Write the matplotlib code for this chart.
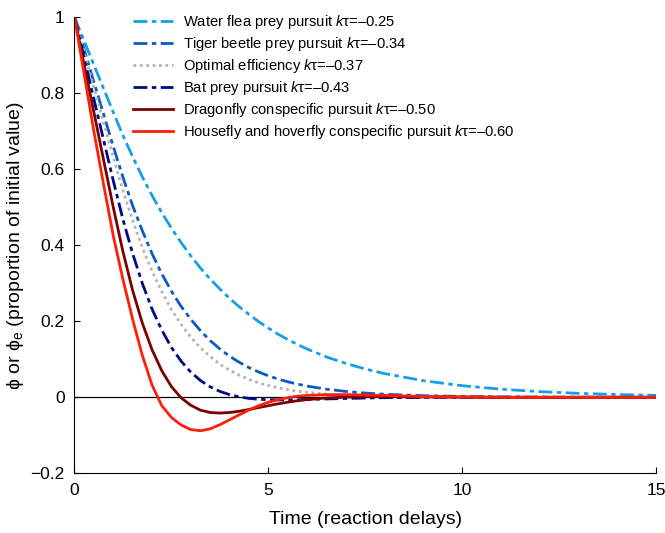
import matplotlib
matplotlib.use("Agg")
import matplotlib.pyplot as plt

plt.rcParams['font.family'] = ['Liberation Sans', 'DejaVu Sans']
plt.rcParams['mathtext.fontset'] = 'custom'
plt.rcParams['mathtext.rm'] = 'Liberation Sans'
plt.rcParams['mathtext.it'] = 'Liberation Sans:italic'

# time in reaction delays
t = [0, 0.25, 0.5, 0.75, 1, 1.25, 1.5, 1.75, 2, 2.25, 2.5, 2.75, 3, 3.25, 3.5, 3.75,
     4, 4.25, 4.5, 4.75, 5, 5.25, 5.5, 5.75, 6, 6.5, 7, 7.5, 8,
     9, 10, 11, 12, 13, 14, 15]

water_flea = [1, 0.9375, 0.875, 0.8125, 0.75, 0.689, 0.633, 0.58, 0.531, 0.486, 0.445, 0.407,
              0.372, 0.34, 0.311, 0.285, 0.26, 0.238, 0.218, 0.199, 0.182, 0.166, 0.152, 0.139,
              0.127, 0.106, 0.089, 0.0744, 0.0623, 0.0436, 0.0305, 0.0213, 0.0149, 0.0104,
              0.0073, 0.0051]
tiger_beetle = [1, 0.915, 0.83, 0.745, 0.66, 0.579, 0.504, 0.438, 0.378, 0.325, 0.279, 0.239,
                0.205, 0.175, 0.149, 0.127, 0.108, 0.092, 0.078, 0.0665, 0.0565, 0.048, 0.0408,
                0.0347, 0.0295, 0.0213, 0.0154, 0.0111, 0.008, 0.0042, 0.0022, 0.0011, 0.0006,
                0.0003, 0.0002, 0.0001]
optimal = [1, 0.908, 0.816, 0.724, 0.632, 0.544, 0.465, 0.394, 0.332, 0.278, 0.231, 0.192,
           0.158, 0.13, 0.107, 0.087, 0.071, 0.058, 0.047, 0.038, 0.031, 0.025, 0.02, 0.016,
           0.013, 0.0085, 0.0056, 0.0037, 0.0024, 0.0011, 0.0005, 0.0002, 0.0001, 0, 0, 0]
bat = [1, 0.8925, 0.785, 0.6775, 0.57, 0.468, 0.378, 0.2995, 0.232, 0.177, 0.131, 0.095,
       0.066, 0.044, 0.0276, 0.0155, 0.0069, 0.001, -0.0029, -0.0052, -0.0064, -0.0068,
       -0.0067, -0.0063, -0.0057, -0.0043, -0.003, -0.0019, -0.001, -0.0002, 0.0001, 0, 0, 0, 0, 0]
dragonfly = [1, 0.875, 0.75, 0.625, 0.5, 0.383, 0.281, 0.195, 0.125, 0.07, 0.028, -0.0015,
             -0.021, -0.034, -0.04, -0.0415, -0.04, -0.0367, -0.032, -0.027, -0.022, -0.017,
             -0.0128, -0.0091, -0.006, -0.0017, 0.0006, 0.0016, 0.0017, 0.0011, 0.0004, 0.0001,
             0, 0, 0, 0]
housefly = [1, 0.85, 0.7, 0.56, 0.425, 0.31, 0.205, 0.11, 0.032, -0.022, -0.053, -0.073,
            -0.085, -0.088, -0.083, -0.072, -0.059, -0.046, -0.033, -0.022, -0.013, -0.006,
            -0.001, 0.003, 0.005, 0.007, 0.007, 0.006, 0.005, 0.002, 0.001, 0, 0, 0, 0, 0]

labels = ["Water flea prey pursuit $k$τ=–0.25",
          "Tiger beetle prey pursuit $k$τ=–0.34",
          "Optimal efficiency $k$τ=–0.37",
          "Bat prey pursuit $k$τ=–0.43",
          "Dragonfly conspecific pursuit $k$τ=–0.50",
          "Housefly and hoverfly conspecific pursuit $k$τ=–0.60"]

fig = plt.figure(figsize=(6.65, 5.33), dpi=100)
ax = fig.add_axes([0.112, 0.112, 0.875, 0.8555])

ax.axhline(0, color='black', lw=0.9, zorder=1)

dashdot = (0, (5, 1.6, 1.6, 1.6))
ax.plot(t, water_flea, color='#12a0e6', lw=2, ls=dashdot, label=labels[0])
ax.plot(t, tiger_beetle, color='#0b5ac2', lw=2, ls=dashdot, label=labels[1])
ax.plot(t, optimal, color='#b4b4b4', lw=2, ls=(0, (1, 1.3)), label=labels[2])
ax.plot(t, bat, color='#000a80', lw=2, ls=dashdot, label=labels[3])
ax.plot(t, dragonfly, color='#7c0000', lw=2, label=labels[4])
ax.plot(t, housefly, color='#ff1e0a', lw=2, label=labels[5])

ax.set_xlim(0, 15)
ax.set_ylim(-0.2, 1)
ax.set_xticks([0, 5, 10, 15])
ax.set_yticks([-0.2, 0, 0.2, 0.4, 0.6, 0.8, 1])
ax.set_yticklabels(['\u22120.2', '0', '0.2', '0.4', '0.6', '0.8', '1'])
ax.tick_params(direction='in', labelsize=12.5, length=4, width=0.8, pad=7)
ax.spines['top'].set_visible(False)
ax.spines['right'].set_visible(False)

ax.set_xlabel('Time (reaction delays)', fontsize=14, labelpad=9)
ax.set_ylabel('ϕ or ϕ$_\\mathrm{e}$ (proportion of initial value)', fontsize=14, labelpad=3)

ax.legend(loc='upper left', bbox_to_anchor=(0.2, 0.975), bbox_transform=fig.transFigure,
          frameon=False, fontsize=10.6, handlelength=2.7, handletextpad=0.68,
          labelspacing=0.27, borderpad=0, borderaxespad=0)

fig.savefig('out.png', dpi=100)
